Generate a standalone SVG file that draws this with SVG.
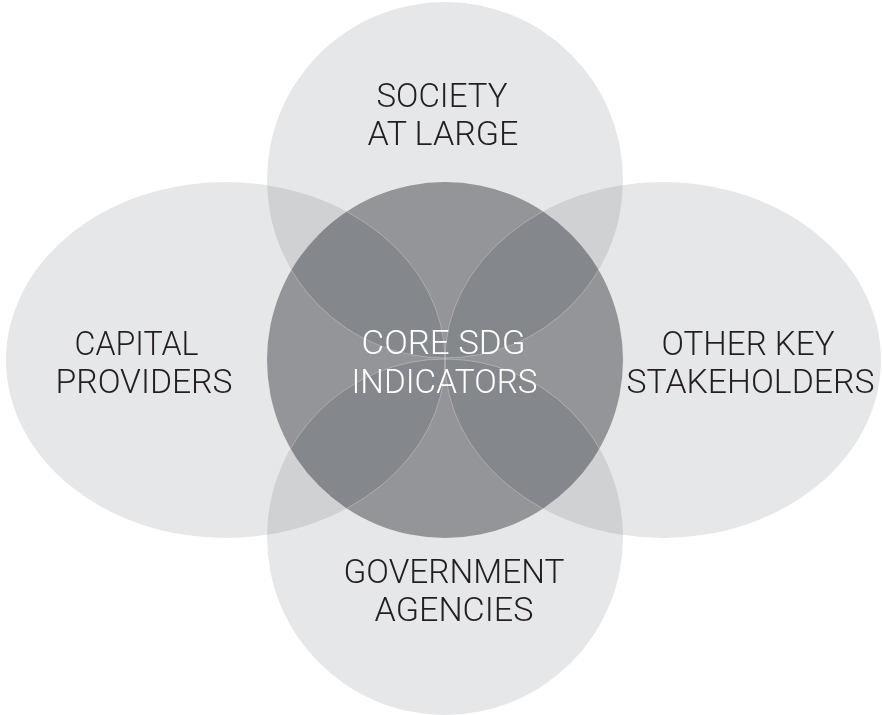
<svg xmlns="http://www.w3.org/2000/svg" width="882" height="715" viewBox="0 0 882 715">
  <style>
    .outer { fill: #e6e7e8; mix-blend-mode: multiply; }
    .core { fill: #a3a5a8; mix-blend-mode: multiply; }
    .edge { fill: none; stroke: #ffffff; stroke-opacity: 0.4; stroke-width: 0.7; }
    .lbl { font-family: Roboto, "Liberation Sans", Arial, sans-serif; font-weight: 300; font-size: 34px; text-anchor: middle; fill: #231f20; }
    .lbl-w { fill: #ffffff; }
  </style>
  <defs>
    <clipPath id="coreClip">
      <circle cx="445" cy="360" r="178"/>
    </clipPath>
  </defs>
  <rect width="882" height="715" fill="#ffffff"/>
  <g id="shapes">
    <g id="society">
      <circle class="outer" cx="445" cy="180" r="178"/>
    </g>
    <g id="capital">
      <ellipse class="outer" cx="225.5" cy="360" rx="219.5" ry="178"/>
    </g>
    <g id="stakeholders">
      <ellipse class="outer" cx="663" cy="360" rx="218" ry="178"/>
    </g>
    <g id="government">
      <circle class="outer" cx="445" cy="537" r="178"/>
    </g>
    <g id="core">
      <circle class="core" cx="445" cy="360" r="178"/>
    </g>
    <g id="core-edges" clip-path="url(#coreClip)">
      <circle class="edge" cx="445" cy="180" r="178"/>
      <ellipse class="edge" cx="225.5" cy="360" rx="219.5" ry="178"/>
      <ellipse class="edge" cx="663" cy="360" rx="218" ry="178"/>
      <circle class="edge" cx="445" cy="537" r="178"/>
    </g>
  </g>
  <g id="labels">
    <g id="label-society">
      <text class="lbl" x="442" y="107" textLength="131" lengthAdjust="spacingAndGlyphs">SOCIETY</text>
      <text class="lbl" x="443" y="145" textLength="151" lengthAdjust="spacingAndGlyphs">AT LARGE</text>
    </g>
    <g id="label-capital">
      <text class="lbl" x="136.5" y="355" textLength="124" lengthAdjust="spacingAndGlyphs">CAPITAL</text>
      <text class="lbl" x="144" y="393" textLength="177" lengthAdjust="spacingAndGlyphs">PROVIDERS</text>
    </g>
    <g id="label-stakeholders">
      <text class="lbl" x="748" y="355" textLength="173" lengthAdjust="spacingAndGlyphs">OTHER KEY</text>
      <text class="lbl" x="750.5" y="393" textLength="248" lengthAdjust="spacingAndGlyphs">STAKEHOLDERS</text>
    </g>
    <g id="label-core">
      <text class="lbl lbl-w" x="443.5" y="354" textLength="164" lengthAdjust="spacingAndGlyphs">CORE SDG</text>
      <text class="lbl lbl-w" x="444.5" y="393" textLength="186" lengthAdjust="spacingAndGlyphs">INDICATORS</text>
    </g>
    <g id="label-government">
      <text class="lbl" x="454" y="583" textLength="221" lengthAdjust="spacingAndGlyphs">GOVERNMENT</text>
      <text class="lbl" x="454" y="621" textLength="159" lengthAdjust="spacingAndGlyphs">AGENCIES</text>
    </g>
  </g>
</svg>
